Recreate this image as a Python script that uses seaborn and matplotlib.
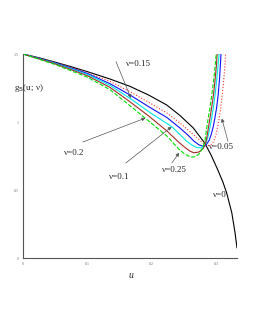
import matplotlib
matplotlib.use("Agg")
import matplotlib.pyplot as plt
import seaborn as sns
import pandas as pd
from matplotlib.ticker import MultipleLocator, FixedLocator, FixedFormatter

# ---- data ----
u_nu0 = [0, 0.025, 0.05, 0.075, 0.10, 0.135, 0.166, 0.195, 0.223, 0.243, 0.264, 0.282, 0.292, 0.302,
         0.31, 0.316, 0.324, 0.329, 0.332]
g_nu0 = [1.5, 1.472, 1.44, 1.406, 1.37, 1.316, 1.262, 1.198, 1.125, 1.05, 0.957, 0.845, 0.755, 0.65,
         0.56, 0.478, 0.331, 0.184, 0.074]

u_nu005 = [0, 0.0496, 0.0992, 0.1349, 0.1659, 0.1969, 0.2233, 0.2434, 0.2589, 0.2713, 0.2806, 0.2868, 0.2915,
           0.2961, 0.2992, 0.3016, 0.3039, 0.3062, 0.3085, 0.3109, 0.3127, 0.3140, 0.3144]
g_nu005 = [1.5, 1.438, 1.364, 1.299, 1.223, 1.140, 1.066, 0.993, 0.930, 0.879, 0.840, 0.826, 0.831,
           0.860, 0.904, 0.956, 1.015, 1.081, 1.176, 1.279, 1.382, 1.471, 1.515]

u_nu01 = [0, 0.0496, 0.0992, 0.1349, 0.1659, 0.1969, 0.2233, 0.2434, 0.2558, 0.2651, 0.2729, 0.2791, 0.2837,
          0.2891, 0.2922, 0.2950, 0.2977, 0.3003, 0.3028, 0.3050, 0.3067, 0.3073]
g_nu01 = [1.5, 1.435, 1.358, 1.282, 1.199, 1.107, 1.033, 0.956, 0.904, 0.860, 0.832, 0.822, 0.828,
          0.868, 0.912, 0.963, 1.029, 1.103, 1.199, 1.324, 1.456, 1.515]

u_nu015 = [0, 0.0496, 0.0992, 0.1349, 0.1659, 0.1969, 0.2310, 0.2434, 0.2527, 0.2620, 0.2698, 0.2760, 0.2806,
           0.2837, 0.2868, 0.2899, 0.2930, 0.2957, 0.2980, 0.3005, 0.3026, 0.3042, 0.3045]
g_nu015 = [1.5, 1.432, 1.351, 1.270, 1.174, 1.070, 0.965, 0.908, 0.864, 0.830, 0.812, 0.810, 0.820,
           0.840, 0.890, 0.956, 1.037, 1.118, 1.199, 1.309, 1.412, 1.500, 1.515]

u_nu02 = [0, 0.0496, 0.0992, 0.1349, 0.1659, 0.1969, 0.2233, 0.2419, 0.2512, 0.2589, 0.2651, 0.2729, 0.2798,
          0.2829, 0.2853, 0.2876, 0.2904, 0.2930, 0.2955, 0.2980, 0.3000, 0.3012, 0.3016]
g_nu02 = [1.5, 1.428, 1.342, 1.255, 1.149, 1.037, 0.934, 0.850, 0.813, 0.786, 0.774, 0.779, 0.807,
          0.835, 0.890, 0.956, 1.037, 1.118, 1.199, 1.309, 1.412, 1.500, 1.515]

u_nu025 = [0, 0.0496, 0.0992, 0.1349, 0.1659, 0.1969, 0.2233, 0.2419, 0.2512, 0.2605, 0.2682, 0.2744, 0.2783,
           0.2822, 0.2848, 0.2874, 0.2899, 0.2929, 0.2958, 0.2981, 0.2998, 0.3002]
g_nu025 = [1.5, 1.423, 1.331, 1.238, 1.120, 1.000, 0.897, 0.800, 0.763, 0.742, 0.745, 0.772, 0.805,
           0.860, 0.949, 1.029, 1.103, 1.199, 1.309, 1.412, 1.500, 1.515]

x_ticks = [0, 0.1, 0.2, 0.3]
x_tick_labels = ["0", "0.1", "0.2", "0.3"]
y_ticks = [0, 0.5, 1, 1.5]
y_tick_labels = ["0", "0.5", "1", "1.5"]

curve_names = ["ν=0", "ν=0.05", "ν=0.1", "ν=0.15", "ν=0.2", "ν=0.25"]
curve_u = [u_nu0, u_nu005, u_nu01, u_nu015, u_nu02, u_nu025]
curve_g = [g_nu0, g_nu005, g_nu01, g_nu015, g_nu02, g_nu025]
curve_colors = ["#000000", "#ff3030", "#1010ff", "#00e8e8", "#a52a2a", "#00e000"]
curve_styles = ["-", ":", "-", "-", "-", "--"]

# ---- plot ----
sns.set_style("white")
plt.rcParams['font.family'] = ['Liberation Serif', 'DejaVu Serif']

fig = plt.figure(figsize=(2.55, 3.3), dpi=100)
ax = fig.add_axes([23 / 255, (330 - 258) / 330, 214 / 255, 204 / 330])

for name, uu, gg, col, ls in zip(curve_names, curve_u, curve_g, curve_colors, curve_styles):
    df = pd.DataFrame({"u": uu, "g": gg})
    sns.lineplot(data=df, x="u", y="g", ax=ax, color=col, linestyle=ls, linewidth=0.8,
                 sort=False, estimator=None)

ax.set_xlim(0, 0.332)
ax.set_ylim(0, 1.5)
for s in ["top", "right"]:
    ax.spines[s].set_visible(False)
for s in ["left", "bottom"]:
    ax.spines[s].set_color("#555555")
    ax.spines[s].set_linewidth(0.8)

ax.xaxis.set_major_locator(FixedLocator(x_ticks))
ax.xaxis.set_major_formatter(FixedFormatter(x_tick_labels))
ax.yaxis.set_major_locator(FixedLocator(y_ticks))
ax.yaxis.set_major_formatter(FixedFormatter(y_tick_labels))
ax.xaxis.set_minor_locator(MultipleLocator(0.05))
ax.yaxis.set_minor_locator(MultipleLocator(0.125))
ax.tick_params(which="both", direction="in", colors="#777777", labelsize=3, pad=3)
ax.tick_params(which="major", length=2, width=0.5)
ax.tick_params(which="minor", length=1.2, width=0.4)
ax.set_xlabel("")
ax.set_ylabel("")

ax.text(0.167, -0.125, "u", fontsize=7, style="italic", ha="center", va="center")
ax.text(0.009, 1.25, "g$_5$(u; ν)", fontsize=6.5, ha="center", va="center")

arrow_kw = dict(arrowstyle="-|>", color="#555555", lw=0.5, mutation_scale=5, shrinkA=0, shrinkB=0)
ax.text(0.1798, 1.426, "ν=0.15", fontsize=6.5, ha="center", va="center")
ax.annotate("", xy=(0.1674, 1.176), xytext=(0.1442, 1.445), arrowprops=arrow_kw)
ax.text(0.0798, 0.772, "ν=0.2", fontsize=6.5, ha="center", va="center")
ax.annotate("", xy=(0.1899, 1.029), xytext=(0.0930, 0.853), arrowprops=arrow_kw)
ax.text(0.1488, 0.599, "ν=0.1", fontsize=6.5, ha="center", va="center")
ax.annotate("", xy=(0.2305, 0.965), xytext=(0.1597, 0.699), arrowprops=arrow_kw)
ax.text(0.2349, 0.647, "ν=0.25", fontsize=6.5, ha="center", va="center")
ax.annotate("", xy=(0.2423, 0.774), xytext=(0.2310, 0.699), arrowprops=arrow_kw)
ax.text(0.3078, 0.816, "ν=0.05", fontsize=6.5, ha="center", va="center")
ax.annotate("", xy=(0.3085, 1.026), xytext=(0.3178, 0.860), arrowprops=arrow_kw)
ax.text(0.3047, 0.463, "ν=0", fontsize=6.5, ha="center", va="center")

fig.savefig("out.png", dpi=100)
